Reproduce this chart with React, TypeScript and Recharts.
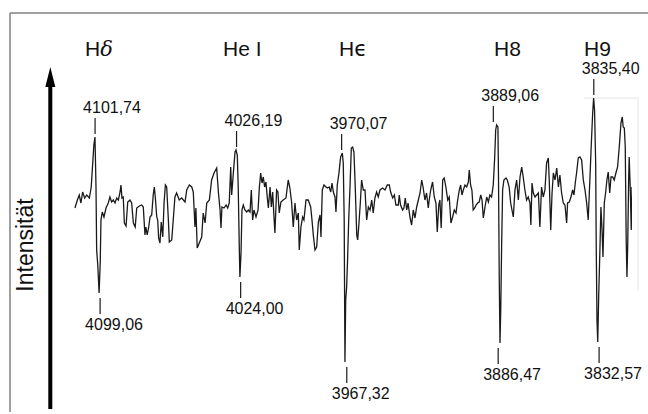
import React from "react";
import { LineChart, Line, XAxis, YAxis, ReferenceLine } from "recharts";

// Spectrum: [wavelength in Å, relative intensity]
const spectrum: [number, number][] = [
  [4112.5,-3],[4111.2,5],[4110.2,10],[4109.3,2],[4108.4,13],[4107.3,7],[4106.2,10],[4104.8,7],[4103.8,18],[4103.0,42],[4102.4,60],[4101.8,68],[4101.25,18],[4100.9,-45],[4100.3,-60],[4099.6,-88],[4099.0,-58],[4098.6,-15],[4097.9,-7],[4097.0,-12],[4095.9,-3],[4094.7,2],[4093.8,8],[4092.9,3],[4092.0,5],[4091.1,2],[4090.2,7],[4089.3,5],[4088.4,13],[4087.9,20],[4087.4,7],[4086.7,8],[4086.1,-18],[4085.2,-21],[4084.3,3],[4083.1,5],[4082.2,2],[4081.3,-18],[4080.3,-22],[4079.5,-3],[4078.1,-1],[4076.8,0],[4076.0,-2],[4075.1,-30],[4074.6,-22],[4073.9,-30],[4073.1,-22],[4072.4,-12],[4071.5,-10],[4070.7,10],[4070.1,18],[4069.6,8],[4068.8,-12],[4068.3,-15],[4067.8,-33],[4067.1,-38],[4066.4,-17],[4065.6,-32],[4064.9,2],[4064.2,20],[4063.5,18],[4062.6,-15],[4062.1,-37],[4060.8,-35],[4060.0,-15],[4059.1,8],[4058.2,12],[4056.8,5],[4055.5,7],
  [4054.6,5],[4053.7,3],[4052.8,15],[4051.4,20],[4050.1,18],[4049.3,13],[4048.4,-22],[4047.9,-3],[4047.2,-43],[4046.1,-38],[4044.8,-32],[4044.0,-8],[4043.0,-18],[4042.1,2],[4040.7,5],[4039.5,25],[4038.2,32],[4036.8,37],[4035.9,13],[4035.0,-5],[4034.5,-23],[4034.0,-2],[4032.9,-3],[4031.8,0],[4030.9,-3],[4030.1,2],[4029.3,38],[4028.8,10],[4027.9,32],[4027.0,53],[4026.5,55],[4025.8,50],[4025.3,18],[4024.7,-45],[4024.4,-72],[4023.8,-48],[4023.3,-5],[4022.6,0],[4021.7,-5],[4020.8,-7],[4019.9,-5],[4019.0,-7],[4018.3,15],[4017.6,-15],[4016.9,-5],[4015.8,-12],[4014.7,-5],[4014.0,18],[4013.3,32],[4012.6,22],[4011.9,28],[4011.2,18],[4010.5,23],[4009.8,8],[4009.2,-3],[4008.3,18],[4007.6,-2],[4006.9,13],[4006.2,-12],[4005.7,-28],[4004.8,15],[4004.1,13],[4003.4,-8],[4002.5,3],[4001.3,5],[3999.8,7],[3998.6,25],[3997.7,17],[3996.8,3],[3995.9,-22],
  [3995.0,2],[3994.1,-15],[3993.2,-8],[3992.7,-45],[3991.8,-22],[3990.9,-12],[3990.2,-15],[3989.1,5],[3987.9,5],[3986.6,-2],[3985.9,-15],[3985.2,-30],[3984.3,-45],[3983.4,-42],[3982.5,-17],[3981.6,-10],[3981.1,-32],[3980.4,15],[3979.5,20],[3978.4,18],[3977.7,17],[3976.7,18],[3975.9,13],[3975.2,22],[3974.5,13],[3973.6,8],[3973.1,-7],[3972.4,20],[3971.5,32],[3970.6,48],[3969.7,52],[3969.2,42],[3968.7,-15],[3968.3,-157],[3967.9,-95],[3967.4,-82],[3966.9,-55],[3966.3,-15],[3965.6,18],[3964.9,57],[3964.2,58],[3963.5,53],[3962.8,18],[3962.0,-30],[3961.5,-35],[3960.8,-18],[3960.1,2],[3959.4,25],[3958.5,15],[3957.6,15],[3956.7,-15],[3955.8,-2],[3954.9,-5],[3954.0,5],[3953.2,-8],[3952.3,7],[3951.4,13],[3950.5,8],[3949.6,15],[3948.2,17],[3946.9,15],[3945.7,20],[3944.6,20],[3943.9,13],[3942.8,7],[3941.9,10],[3941.1,0],[3939.8,0],[3939.3,10],[3938.6,0],[3937.5,-5],
  [3936.8,-3],[3936.1,7],[3935.3,-5],[3934.6,2],[3933.6,-12],[3932.7,-20],[3931.8,-5],[3930.9,-13],[3930.0,-2],[3929.1,5],[3928.2,12],[3927.3,25],[3926.5,17],[3925.6,5],[3924.7,12],[3923.8,-3],[3923.3,5],[3922.5,15],[3921.5,23],[3920.6,8],[3919.7,2],[3919.0,-27],[3918.2,0],[3917.6,5],[3916.9,-23],[3916.1,25],[3915.3,27],[3914.4,18],[3913.4,5],[3912.6,8],[3911.7,-18],[3910.8,-12],[3909.9,-5],[3909.0,-8],[3908.1,5],[3907.2,15],[3906.5,20],[3905.8,10],[3905.1,15],[3904.2,20],[3903.3,18],[3902.4,23],[3901.9,35],[3901.2,20],[3900.5,15],[3899.8,-5],[3899.0,-3],[3898.3,0],[3897.4,2],[3896.6,3],[3895.8,10],[3895.1,5],[3894.4,-13],[3893.5,-2],[3892.6,8],[3891.7,3],[3890.9,10],[3890.0,8],[3889.1,20],[3888.4,45],[3887.8,75],[3887.3,80],[3886.6,78],[3886.3,28],[3885.9,-72],[3885.5,-138],[3885.1,-105],[3884.6,-38],[3884.1,15],[3883.4,25],[3882.3,27],[3881.6,25],[3880.6,18],[3879.8,2],[3879.1,-5],
  [3878.4,-12],[3877.5,15],[3876.6,25],[3875.7,5],[3874.8,28],[3873.9,38],[3873.1,28],[3872.2,15],[3871.3,5],[3870.4,8],[3869.5,2],[3869.0,-20],[3868.4,22],[3867.7,12],[3866.8,8],[3865.9,10],[3865.0,12],[3864.2,-22],[3863.3,18],[3862.4,8],[3861.5,15],[3860.6,42],[3859.7,47],[3859.2,25],[3858.4,-25],[3857.7,12],[3857.0,32],[3856.1,25],[3855.2,37],[3854.3,18],[3853.5,30],[3852.6,12],[3851.7,2],[3850.8,0],[3849.9,-18],[3849.4,2],[3848.5,3],[3847.6,8],[3846.7,15],[3846.0,10],[3845.3,22],[3844.6,32],[3843.7,47],[3842.8,48],[3841.9,45],[3841.0,25],[3840.1,15],[3839.2,2],[3838.4,-15],[3837.5,25],[3836.8,58],[3836.0,92],[3835.5,107],[3835.0,95],[3834.4,42],[3834.1,-42],[3833.7,-115],[3833.3,-137],[3832.8,-92],[3832.1,-42],[3831.6,-2],[3831.0,-25],[3830.5,-52],[3829.8,2],[3829.1,12],[3828.4,25],[3827.7,33],[3826.9,12],[3826.2,28],[3825.3,28],[3824.5,25],[3823.6,32],[3822.7,38],[3821.8,58],[3820.9,82],[3820.2,88],[3819.7,78],[3819.1,77],[3818.6,58],[3818.1,-35],[3817.7,-72],[3817.3,-42],[3816.8,25],[3816.5,48],[3815.9,15],[3815.4,-25],[3815.0,18],
];

// Emission peaks (wavelength, label, peak intensity)
const emissionWl = [4101.74, 4026.19, 3970.07, 3889.06, 3835.40];
const emissionText = ["4101,74", "4026,19", "3970,07", "3889,06", "3835,40"];
const emissionLevel = [68, 55, 52, 80, 107];

// Absorption dips (wavelength, label, dip intensity)
const absorptionWl = [4099.06, 4024.0, 3967.32, 3886.47, 3832.57];
const absorptionText = ["4099,06", "4024,00", "3967,32", "3886,47", "3832,57"];
const absorptionLevel = [-88, -72, -157, -138, -137];

const lineNames = ["Hδ", "He I", "Hϵ", "H8", "H9"];

const FONT = "'Liberation Sans', Arial, Helvetica, sans-serif";
const INK = "#1a1a1a";

const data = spectrum.map(([wl, i]) => ({ wl, i }));

const topLabel = (text: string) => (props: any) => {
  const vb = props.viewBox || { x: 0, y: 0, width: 0, height: 0 };
  return (
    <text x={vb.x - 12} y={vb.y - 5} fontSize={16} fontFamily={FONT} fill="#111">
      {text}
    </text>
  );
};

const bottomLabel = (text: string) => (props: any) => {
  const vb = props.viewBox || { x: 0, y: 0, width: 0, height: 0 };
  return (
    <text x={vb.x - 15} y={vb.y + vb.height + 16} fontSize={16} fontFamily={FONT} fill="#111">
      {text}
    </text>
  );
};

const titleX = [85, 223, 339, 494, 584];

export default function App() {
  return (
    <div style={{ position: "absolute", left: 0, top: 0, width: 648, height: 414, background: "#fff" }}>
      <svg width={648} height={414} style={{ position: "absolute", left: 0, top: 0 }}>
        <line x1={10} y1={13} x2={648} y2={13} stroke="#808080" strokeWidth={1.5} />
        <line x1={10} y1={13} x2={10} y2={412} stroke="#808080" strokeWidth={1.5} />
        <polyline points="584,98 638,98 638,290" fill="none" stroke="#e6e6e6" strokeWidth={1} />
        <line x1={50.3} y1={82} x2={50.3} y2={409} stroke="#000" strokeWidth={4} />
        <polygon points="50.3,67 45.3,87 55.3,87" fill="#000" />
        <text
          x={33}
          y={245}
          transform="rotate(-90 33 245)"
          textAnchor="middle"
          fontSize={23}
          fontFamily={FONT}
          fill="#111"
        >
          Intensität
        </text>
        {lineNames.map((n, k) => (
          <text key={n} x={titleX[k]} y={56} fontSize={21} fontFamily={FONT} fill="#111">
            {n === "Hδ" ? (
              <>
                H<tspan fontStyle="italic" fontFamily="'DejaVu Serif', serif">δ</tspan>
              </>
            ) : n === "Hϵ" ? (
              <>
                H<tspan fontFamily="'DejaVu Sans', sans-serif">ϵ</tspan>
              </>
            ) : (
              n
            )}
          </text>
        ))}
      </svg>
      <div style={{ position: "absolute", left: 0, top: 0 }}>
        <LineChart width={648} height={414} data={data} margin={{ top: 75, right: 16, bottom: 39, left: 74 }}>
          <XAxis type="number" dataKey="wl" domain={[3815, 4113]} reversed hide allowDataOverflow />
          <YAxis type="number" domain={[-170, 130]} hide allowDataOverflow />
          <Line
            type="linear"
            dataKey="i"
            stroke={INK}
            strokeWidth={1.3}
            dot={false}
            activeDot={false}
            isAnimationActive={false}
          />
          {emissionWl.map((wl, k) => (
            <ReferenceLine
              key={"e" + k}
              segment={[
                { x: wl, y: emissionLevel[k] + 3 },
                { x: wl, y: emissionLevel[k] + 19 },
              ]}
              stroke={INK}
              strokeWidth={1.2}
              ifOverflow="visible"
              label={topLabel(emissionText[k])}
            />
          ))}
          {absorptionWl.map((wl, k) => (
            <ReferenceLine
              key={"a" + k}
              segment={[
                { x: wl, y: absorptionLevel[k] - 5 },
                { x: wl, y: absorptionLevel[k] - 21 },
              ]}
              stroke={INK}
              strokeWidth={1.2}
              ifOverflow="visible"
              label={bottomLabel(absorptionText[k])}
            />
          ))}
        </LineChart>
      </div>
    </div>
  );
}
